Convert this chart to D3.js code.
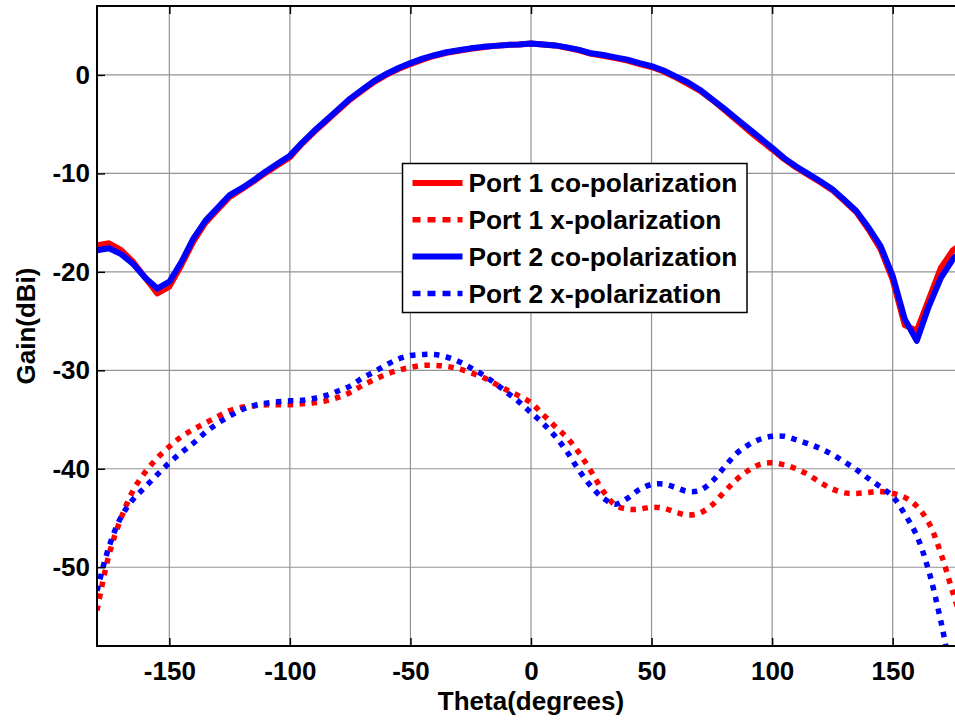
<!DOCTYPE html>
<html>
<head>
<meta charset="utf-8">
<script src="https://cdn.jsdelivr.net/npm/d3@7"></script>
<style>
  html, body { margin: 0; padding: 0; background: #fff; overflow: hidden; }
  svg { display: block; }
  text { font-family: "Liberation Sans", Arial, Helvetica, sans-serif; font-weight: bold; fill: #000; }
</style>
</head>
<body>
<svg id="chart" width="955" height="722"></svg>
<script>
// Angle grid (degrees), shared by all four traces
const theta = d3.range(-180, 181, 5);

// Gain values (dBi) at each theta
const port1Co = [
  -17.3, -17.1, -17.8, -19.0, -20.6, -22.2, -21.5, -19.3, -16.9, -15.0,
  -13.7, -12.4, -11.6, -10.8, -9.95, -9.15, -8.35, -7.0, -5.8, -4.7,
  -3.6, -2.5, -1.6, -0.7, 0.0, 0.6, 1.1, 1.55, 1.95, 2.25,
  2.45, 2.65, 2.8, 2.95, 3.05, 3.1, 3.2, 3.1, 3.0, 2.75,
  2.5, 2.15, 1.95, 1.7, 1.45, 1.1, 0.8, 0.35, -0.25, -0.9,
  -1.6, -2.5, -3.5, -4.55, -5.6, -6.6, -7.55, -8.55, -9.4, -10.15,
  -10.9, -11.7, -12.8, -13.95, -15.7, -17.7, -20.8, -25.4, -26.0, -22.8,
  -19.6, -17.8, -17.0
];
const port1X = [
  -54.4, -48.7, -45.0, -42.2, -40.35, -38.9, -37.75, -36.75, -36.0, -35.35,
  -34.7, -34.1, -33.75, -33.6, -33.5, -33.5, -33.5, -33.4, -33.3, -33.1,
  -32.75, -32.25, -31.55, -30.95, -30.4, -30.0, -29.7, -29.5, -29.5, -29.6,
  -29.85, -30.25, -30.7, -31.35, -32.0, -32.6, -33.3, -34.5, -35.7, -36.85,
  -38.4, -40.3, -42.3, -43.7, -44.1, -44.1, -43.9, -44.0, -44.4, -44.7,
  -44.5, -43.7, -42.4, -41.15, -40.2, -39.55, -39.4, -39.6, -40.0, -40.6,
  -41.4, -42.05, -42.45, -42.5, -42.4, -42.3, -42.5, -42.9, -43.8, -45.5,
  -48.6, -52.6, -56.5
];
const port2Co = [
  -17.8, -17.6, -18.2, -19.2, -20.6, -21.7, -21.0, -19.0, -16.6, -14.8,
  -13.5, -12.2, -11.5, -10.7, -9.8, -9.0, -8.2, -6.9, -5.7, -4.6,
  -3.5, -2.4, -1.5, -0.6, 0.1, 0.7, 1.2, 1.65, 2.0, 2.3,
  2.5, 2.7, 2.85, 2.95, 3.05, 3.1, 3.2, 3.1, 3.0, 2.8,
  2.55, 2.2, 2.02, 1.78, 1.55, 1.2, 0.9, 0.45, -0.15, -0.75,
  -1.5, -2.45, -3.4, -4.4, -5.4, -6.4, -7.4, -8.45, -9.3, -10.05,
  -10.8, -11.6, -12.7, -13.85, -15.5, -17.4, -20.4, -24.8, -27.0, -23.5,
  -20.6, -18.7, -17.6
];
const port2X = [
  -52.4, -47.9, -44.9, -43.1, -41.85, -40.6, -39.4, -38.35, -37.4, -36.3,
  -35.4, -34.65, -34.0, -33.6, -33.35, -33.2, -33.1, -33.05, -32.85, -32.55,
  -32.1, -31.6, -30.8, -30.15, -29.45, -28.85, -28.5, -28.4, -28.4, -28.65,
  -29.1, -29.75, -30.45, -31.3, -32.25, -33.2, -34.3, -35.4, -36.7, -38.3,
  -40.2, -41.8, -43.0, -43.6, -43.0, -42.1, -41.6, -41.55, -41.9, -42.3,
  -42.2, -41.3, -39.9, -38.5, -37.6, -37.0, -36.7, -36.7, -37.05, -37.45,
  -37.95, -38.55, -39.3, -40.1, -41.0, -41.85, -42.8, -44.6, -46.8, -50.4,
  -55.5, -61.5, -66.0
];

const xTicks = [-150, -100, -50, 0, 50, 100, 150];
const yTicks = [-50, -40, -30, -20, -10, 0];

const seriesNames = [
  "Port 1 co-polarization",
  "Port 1 x-polarization",
  "Port 2 co-polarization",
  "Port 2 x-polarization"
];
const seriesColors = ["#ff0000", "#ff0000", "#0000ff", "#0000ff"];
const seriesDotted = [false, true, false, true];
const seriesValues = [port1Co, port1X, port2Co, port2X];

// Layout
const plot = { left: 97, right: 965, top: 6, bottom: 646 };
const x = d3.scaleLinear().domain([-180, 180]).range([plot.left, plot.right]);
const y = d3.scaleLinear().domain([-58, 7]).range([plot.bottom, plot.top]);
const plainNum = d => String(d);   // hyphen-minus, not the typographic minus

const svg = d3.select("#chart");

svg.append("defs").append("clipPath").attr("id", "plotClip")
  .append("rect")
  .attr("x", plot.left).attr("y", plot.top)
  .attr("width", plot.right - plot.left).attr("height", plot.bottom - plot.top);

// Grid
const grid = svg.append("g").attr("stroke", "#939393").attr("stroke-width", 1.2);
grid.selectAll("line.gx").data(xTicks).join("line")
  .attr("x1", d => x(d)).attr("x2", d => x(d))
  .attr("y1", plot.top).attr("y2", plot.bottom);
grid.selectAll("line.gy").data(yTicks).join("line")
  .attr("x1", plot.left).attr("x2", plot.right)
  .attr("y1", d => y(d)).attr("y2", d => y(d));

// Traces
const lines = svg.append("g").attr("clip-path", "url(#plotClip)").attr("fill", "none");
seriesValues.forEach((vals, i) => {
  const pts = theta.map((t, k) => [t, vals[k]]);
  const gen = d3.line()
    .x(d => x(d[0])).y(d => y(d[1]))
    .curve(seriesDotted[i] ? d3.curveCatmullRom.alpha(0.5) : d3.curveLinear);
  const p = lines.append("path")
    .attr("d", gen(pts))
    .attr("stroke", seriesColors[i])
    .attr("stroke-linejoin", "round");
  if (seriesDotted[i]) {
    p.attr("stroke-width", 5.5).attr("stroke-dasharray", "5.5 6.5");
  } else {
    p.attr("stroke-width", 6);
  }
});

// Axes box and inward ticks
const axes = svg.append("g");
axes.append("rect")
  .attr("x", plot.left).attr("y", plot.top)
  .attr("width", plot.right - plot.left).attr("height", plot.bottom - plot.top)
  .attr("fill", "none").attr("stroke", "#000").attr("stroke-width", 2);

const xAxisB = d3.axisBottom(x).tickValues(xTicks).tickFormat(plainNum).tickSizeInner(-8).tickSizeOuter(0);
const gxb = axes.append("g").attr("transform", `translate(0,${plot.bottom})`).call(xAxisB);
const xAxisT = d3.axisTop(x).tickValues(xTicks).tickSizeInner(-8).tickSizeOuter(0).tickFormat("");
const gxt = axes.append("g").attr("transform", `translate(0,${plot.top})`).call(xAxisT);
const yAxisL = d3.axisLeft(y).tickValues(yTicks).tickFormat(plainNum).tickSizeInner(-8).tickSizeOuter(0);
const gyl = axes.append("g").attr("transform", `translate(${plot.left},0)`).call(yAxisL);
const yAxisR = d3.axisRight(y).tickValues(yTicks).tickSizeInner(-8).tickSizeOuter(0).tickFormat("");
const gyr = axes.append("g").attr("transform", `translate(${plot.right},0)`).call(yAxisR);

[gxb, gxt, gyl, gyr].forEach(g => {
  g.select(".domain").remove();
  g.selectAll(".tick line").attr("stroke", "#000").attr("stroke-width", 1.5);
  g.selectAll(".tick text")
    .attr("font-size", 26)
    .attr("font-family", "'Liberation Sans', Arial, sans-serif")
    .attr("font-weight", "bold")
    .attr("fill", "#000");
});
gxb.selectAll(".tick text").attr("dy", "0.71em").attr("y", 16);
gyl.selectAll(".tick text").attr("x", -7);

// Axis titles
svg.append("text")
  .attr("x", x(0)).attr("y", 710)
  .attr("text-anchor", "middle")
  .attr("font-size", 26)
  .text("Theta(degrees)");
svg.append("text")
  .attr("transform", `translate(35,${(plot.top + plot.bottom) / 2}) rotate(-90)`)
  .attr("text-anchor", "middle")
  .attr("font-size", 26)
  .text("Gain(dBi)");

// Legend
const lg = svg.append("g").attr("transform", "translate(402.5,163.5)");
lg.append("rect")
  .attr("width", 344.5).attr("height", 149)
  .attr("fill", "#fff").attr("stroke", "#000").attr("stroke-width", 1.5);
seriesNames.forEach((name, i) => {
  const cy = 19.5 + i * 36.8;
  const ln = lg.append("line")
    .attr("x1", 10).attr("x2", 60).attr("y1", cy).attr("y2", cy)
    .attr("stroke", seriesColors[i]);
  if (seriesDotted[i]) ln.attr("stroke-width", 5.5).attr("stroke-dasharray", "8 7");
  else ln.attr("stroke-width", 6);
  lg.append("text")
    .attr("x", 66).attr("y", cy).attr("dy", "0.36em")
    .attr("font-size", 26.3)
    .text(name);
});
</script>
</body>
</html>
